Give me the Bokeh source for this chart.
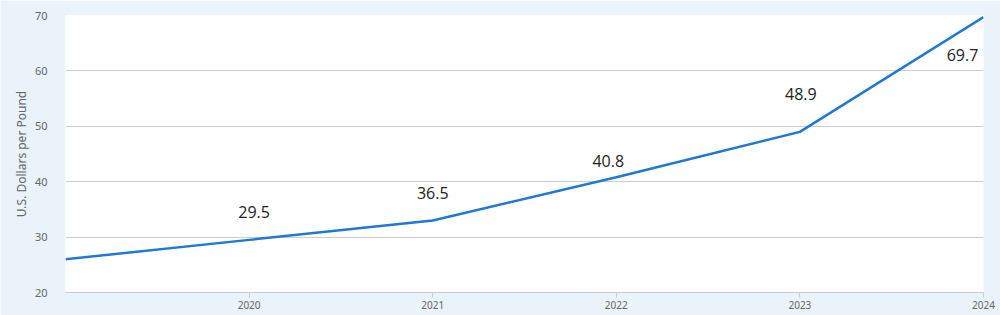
from bokeh.plotting import figure
from bokeh.models import ColumnDataSource, FixedTicker, Range1d
from bokeh.core.properties import value
from bokeh.embed import file_html
from bokeh.resources import INLINE

# Data
years = [2019, 2020, 2021, 2022, 2023, 2024]
prices = [26.0, 29.5, 33.0, 40.8, 49.0, 69.7]
label_years = [2020, 2021, 2022, 2023, 2024]
label_texts = ["29.5", "36.5", "40.8", "48.9", "69.7"]
label_anchor = [29.5, 33.0, 40.8, 49.0, 69.7]
x_ticks = [2020, 2021, 2022, 2023, 2024]
y_ticks = [20, 30, 40, 50, 60, 70]

# label placement (pixels, styling)
label_dx = [5, 0, -8, 1, -21]
label_dy = [-28, -27, -16, -38, 38]

BG = "#eaf2fa"

p = figure(width=1000, height=315, output_backend="svg", toolbar_location=None,
           x_range=Range1d(2019, 2024), y_range=Range1d(20, 70),
           min_border_left=65, min_border_right=17, min_border_top=15, min_border_bottom=23)
p.background_fill_color = "white"
p.border_fill_color = BG
p.outline_line_color = None

p.line(years, prices, line_color="#1f78d4", line_width=2.5)

src = ColumnDataSource(dict(x=label_years, y=label_anchor, t=label_texts,
                            dx=label_dx, dy=label_dy))
p.text(x="x", y="y", text="t", source=src, x_offset="dx", y_offset="dy",
       text_align="center", text_baseline="middle", text_font_size="16px",
       text_color="#222222", text_font=value("Open Sans"))

p.xgrid.grid_line_color = None
p.ygrid.grid_line_color = "#cccccc"
p.ygrid.ticker = FixedTicker(ticks=y_ticks)

p.xaxis.ticker = FixedTicker(ticks=x_ticks)
p.xaxis.axis_line_color = "#cccccc"
p.xaxis.major_tick_line_color = "#cccccc"
p.xaxis.major_tick_out = 5
p.xaxis.major_tick_in = 0
p.xaxis.minor_tick_line_color = None
p.xaxis.major_label_text_font_size = "10px"
p.xaxis.major_label_text_color = "#666666"
p.xaxis.major_label_text_font = "Noto Sans"
p.xaxis.major_label_standoff = 3

p.yaxis.ticker = FixedTicker(ticks=y_ticks)
p.yaxis.axis_line_color = None
p.yaxis.major_tick_line_color = None
p.yaxis.minor_tick_line_color = None
p.yaxis.major_label_text_font_size = "11px"
p.yaxis.major_label_text_color = "#666666"
p.yaxis.major_label_text_font = "Noto Sans"
p.yaxis.major_label_standoff = 12
p.yaxis.axis_label = "U.S. Dollars per Pound"
p.yaxis.axis_label_text_font_size = "12px"
p.yaxis.axis_label_text_font_style = "normal"
p.yaxis.axis_label_text_color = "#666666"
p.yaxis.axis_label_text_font = "Noto Sans"
p.yaxis.axis_label_standoff = 2

open("out.html", "w").write(file_html(p, INLINE))
